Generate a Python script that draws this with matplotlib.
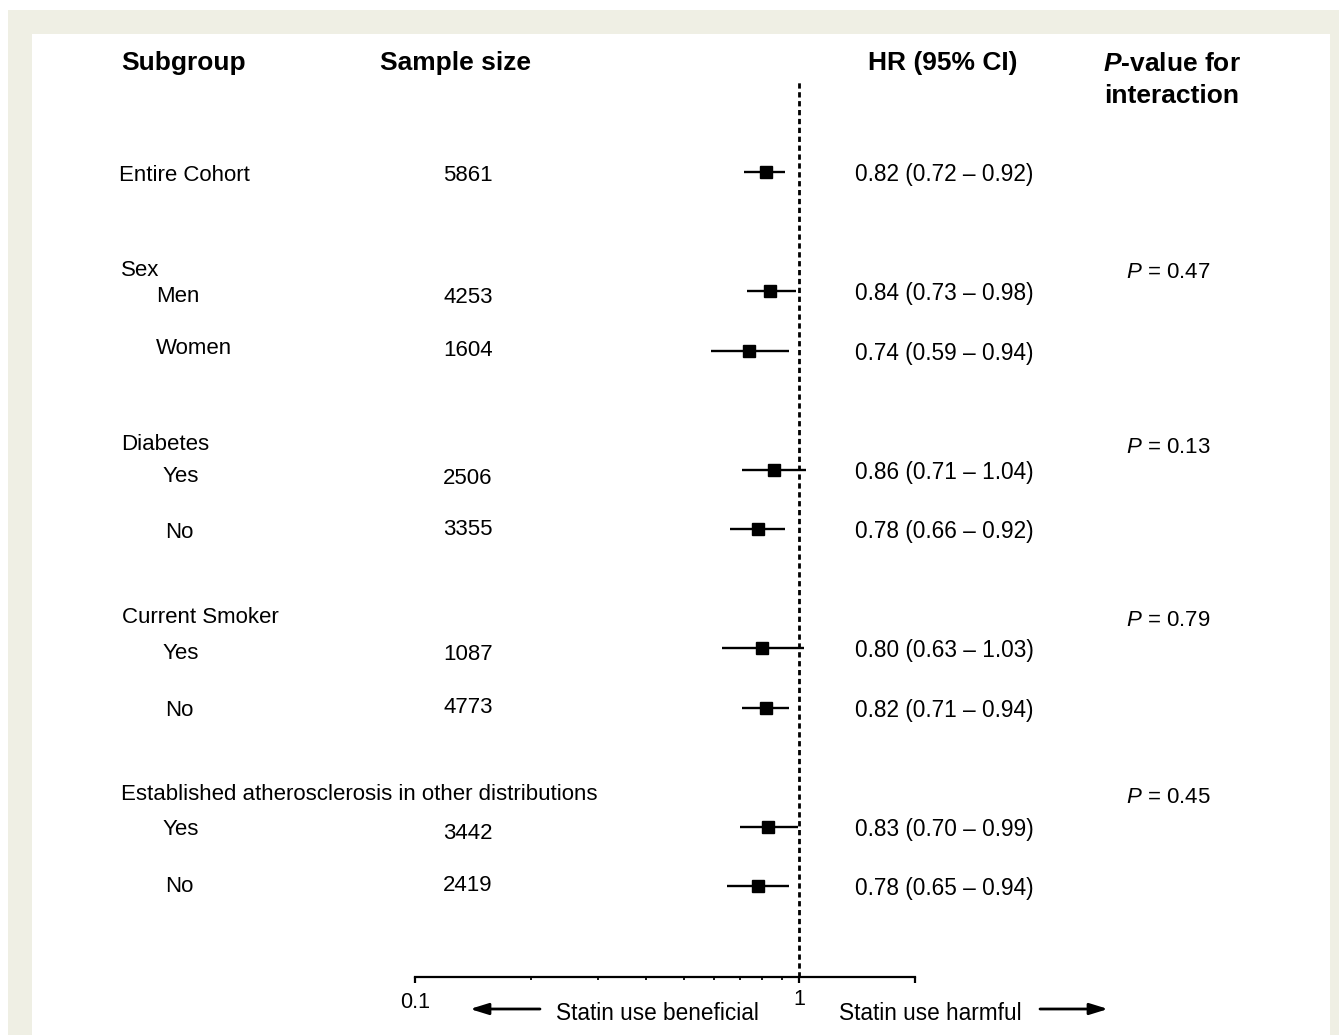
import matplotlib
matplotlib.use("Agg")
import matplotlib.pyplot as plt
from matplotlib.patches import Rectangle, FancyArrowPatch
from matplotlib.transforms import blended_transform_factory
from matplotlib.ticker import FixedLocator, NullFormatter

plt.rcParams['font.family'] = ['Liberation Sans', 'DejaVu Sans']
plt.rcParams['mathtext.fontset'] = 'custom'
plt.rcParams['mathtext.rm'] = 'Liberation Sans'
plt.rcParams['mathtext.it'] = 'Liberation Sans:italic'
plt.rcParams['mathtext.bf'] = 'Liberation Sans:bold'
plt.rcParams['mathtext.bfit'] = 'Liberation Sans:bold:italic'

# ---------------- data ----------------
headers = ["Subgroup", "Sample size", "HR (95% CI)"]
group_names = ["Sex", "Diabetes", "Current Smoker",
               "Established atherosclerosis in other distributions"]
p_values = ["0.47", "0.13", "0.79", "0.45"]

row_labels = ["Entire Cohort", "Men", "Women", "Yes", "No", "Yes", "No", "Yes", "No"]
sample_sizes = [5861, 4253, 1604, 2506, 3355, 1087, 4773, 3442, 2419]
hr = [0.82, 0.84, 0.74, 0.86, 0.78, 0.80, 0.82, 0.83, 0.78]
ci_low = [0.72, 0.73, 0.59, 0.71, 0.66, 0.63, 0.71, 0.70, 0.65]
ci_high = [0.92, 0.98, 0.94, 1.04, 0.92, 1.03, 0.94, 0.99, 0.94]

# ---------------- layout ----------------
W, H = 1339, 1035
row_pos = [0, 2, 3, 5, 6, 8, 9, 11, 12]
group_pos = [1.61, 4.54, 7.45, 10.42]
row_label_x = [119, 156, 156, 163, 165, 163, 165, 163, 165]
label_dy = [0.02, 0.04, -0.08, 0.08, 0.02, 0.04, 0.0, 0.0, -0.03]
size_dy = [0.02, 0.07, -0.05, 0.1, -0.03, 0.07, -0.05, 0.07, -0.05]
group_x = [121, 121, 122, 121]
TDY = 0.045  # text vertical nudge (rows)

ROW0, ROWH = 172, 59.5
ax_top, ax_bot = 80, 977
ax_left, ax_right = 415, 915

fig = plt.figure(figsize=(W / 100, H / 100), dpi=100)
fig.patch.set_facecolor('white')
fig.patches.append(Rectangle((8 / W, 0), 1 - 8 / W, 1 - 10 / H, transform=fig.transFigure,
                             facecolor='#efefe4', edgecolor='none', zorder=-10))
fig.patches.append(Rectangle((32 / W, 0), (1330 - 32) / W, 1 - 34 / H, transform=fig.transFigure,
                             facecolor='white', edgecolor='none', zorder=-9))

ax = fig.add_axes([ax_left / W, 1 - ax_bot / H, (ax_right - ax_left) / W, (ax_bot - ax_top) / H])
ax.set_facecolor('none')
ax.set_xscale('log')
ax.set_xlim(0.1, 2)
ax.set_ylim((ax_bot - ROW0) / ROWH, (ax_top - ROW0) / ROWH)
for s in ['top', 'right', 'left']:
    ax.spines[s].set_visible(False)
ax.spines['bottom'].set_linewidth(1.6)
ax.set_yticks([])
ax.xaxis.set_major_locator(FixedLocator([0.1, 1, 2]))
ax.xaxis.set_minor_locator(FixedLocator([0.2, 0.3, 0.4, 0.5, 0.6, 0.7, 0.8, 0.9]))
ax.xaxis.set_minor_formatter(NullFormatter())
ax.set_xticklabels(["0.1", "1", ""])
ax.tick_params(axis='x', which='major', length=4, width=1.6, labelsize=15.5, pad=7)
ax.tick_params(axis='x', which='minor', length=2.5, width=1.3)
for lab in ax.get_xticklabels():
    if lab.get_text() == "1":
        lab.set_y(0.004)

# reference line
ax.axvline(1, color='black', lw=2.0, ls=(0, (1.9, 1.3)), zorder=1)

# CIs and points
for y, m, lo, hi in zip(row_pos, hr, ci_low, ci_high):
    ax.plot([lo, hi], [y, y], color='black', lw=1.7, zorder=2, solid_capstyle='butt')
    ax.plot([m], [y], marker='s', color='black', markersize=9.3, zorder=3)

tr = blended_transform_factory(fig.transFigure, ax.transData)
FS = 16.0
FS_HR = 16.3

def fx(px):
    return px / W

def py(pix):
    return (pix - ROW0) / ROWH

# headers
ax.text(fx(121), py(63), headers[0], transform=tr, fontsize=19, fontweight='bold',
        ha='left', va='center', clip_on=False)
ax.text(fx(455), py(63), headers[1], transform=tr, fontsize=19, fontweight='bold',
        ha='center', va='center', clip_on=False)
ax.text(fx(943), py(63), headers[2], transform=tr, fontsize=19, fontweight='bold',
        ha='center', va='center', clip_on=False)
ax.text(fx(1103), py(64), r"$\mathbfit{P}$-value for", transform=tr, fontsize=19,
        fontweight='bold', ha='left', va='center', clip_on=False)
ax.text(fx(1104), py(96), "interaction", transform=tr, fontsize=19, fontweight='bold',
        ha='left', va='center', clip_on=False)

# rows
for i, (lab, n, m, lo, hi) in enumerate(zip(row_labels, sample_sizes, hr, ci_low, ci_high)):
    y = row_pos[i]
    ax.text(fx(row_label_x[i]), y + label_dy[i] + TDY, lab, transform=tr, fontsize=FS,
            ha='left', va='center', clip_on=False)
    ax.text(fx(468), y + size_dy[i] + TDY, f"{n}", transform=tr, fontsize=FS,
            ha='center', va='center', clip_on=False)
    ax.text(fx(855), y + TDY, f"{m:.2f} ({lo:.2f} \u2013 {hi:.2f})", transform=tr, fontsize=FS_HR,
            ha='left', va='center', clip_on=False)

# groups and p-values
for gx, gname, gy, p in zip(group_x, group_names, group_pos, p_values):
    ax.text(fx(gx), gy + TDY, gname, transform=tr, fontsize=FS, ha='left', va='center', clip_on=False)
    ax.text(fx(1168), gy + 0.04 + TDY, r"$P$ = " + p, transform=tr, fontsize=FS,
            ha='center', va='center', clip_on=False)

# bottom annotations
fig.text(fx(657), 1 - 1013 / H, "Statin use beneficial", fontsize=FS_HR, ha='center', va='center')
fig.text(fx(930), 1 - 1013 / H, "Statin use harmful", fontsize=FS_HR, ha='center', va='center')
arrow_kw = dict(arrowstyle='-|>,head_length=0.55,head_width=0.17', mutation_scale=20,
                color='black', lw=2.0, shrinkA=0, shrinkB=0)
fig.add_artist(FancyArrowPatch((fx(540), 1 - 1009 / H), (fx(470), 1 - 1009 / H),
                               transform=fig.transFigure, **arrow_kw))
fig.add_artist(FancyArrowPatch((fx(1040), 1 - 1009 / H), (fx(1108), 1 - 1009 / H),
                               transform=fig.transFigure, **arrow_kw))

fig.savefig("out.png", dpi=100)
